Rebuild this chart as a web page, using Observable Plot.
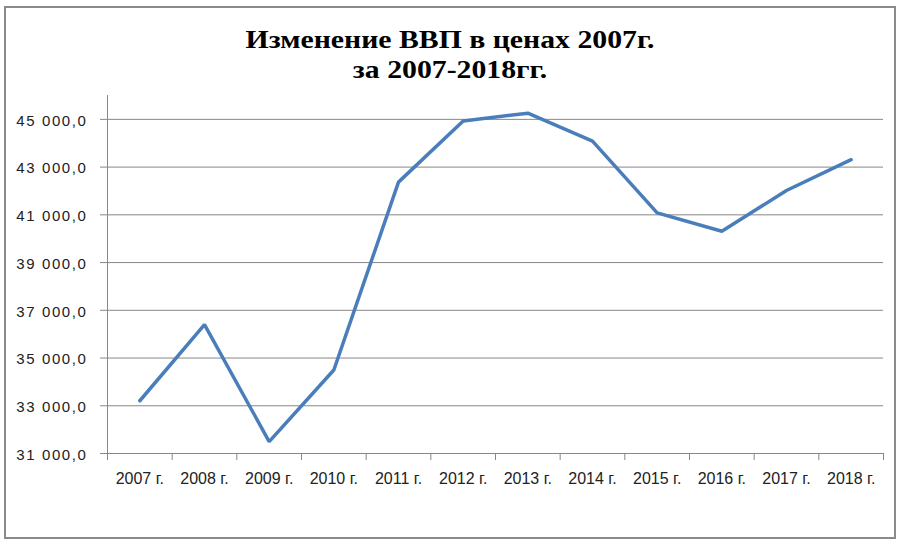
<!DOCTYPE html>
<html>
<head>
<meta charset="utf-8">
<script src="https://cdn.jsdelivr.net/npm/d3@7"></script>
<script src="https://cdn.jsdelivr.net/npm/@observablehq/plot@0.6"></script>
<style>
  html, body { margin: 0; padding: 0; background: #fff; }
  #wrap { position: relative; width: 901px; height: 542px; overflow: hidden; }
  #frame { position: absolute; left: 4px; top: 6px; width: 888px; height: 529px; border: 2px solid #8a8a8a; pointer-events: none; }
  #title { height: 90px; box-sizing: border-box; padding-top: 25px; text-align: center;
           font-family: "Liberation Serif", "Times New Roman", serif; font-weight: bold;
           font-size: 25px; line-height: 30px; color: #000; }
  #title div { display: block; transform: scaleX(1.19); transform-origin: 453px 50%; }
  svg g[aria-label="y-axis tick label"] text { letter-spacing: 1.6px; }
</style>
</head>
<body>
<div id="wrap">
  <div id="title"><div>Изменение ВВП в ценах 2007г.</div><div>за 2007-2018гг.</div></div>
  <div id="chart"></div>
  <div id="frame"></div>
</div>
<script>
const years = ["2007 г.", "2008 г.", "2009 г.", "2010 г.", "2011 г.", "2012 г.", "2013 г.", "2014 г.", "2015 г.", "2016 г.", "2017 г.", "2018 г."];
const gdp = [33210, 36400, 31500, 34500, 42370, 44930, 45260, 44090, 41080, 40310, 42020, 43310];
const yTicks = [31000, 33000, 35000, 37000, 39000, 41000, 43000, 45000];

const ru = d3.formatLocale({decimal: ",", thousands: " ", grouping: [3], currency: ["", ""]});
const fmt = ru.format(",.1f");

const data = years.map((label, i) => ({pos: i + 0.5, label, value: gdp[i]}));
const bounds = d3.range(years.length + 1);
const centers = years.map((_, i) => i + 0.5);

const chart = Plot.plot({
  width: 901,
  height: 452,
  marginTop: 5,
  marginBottom: 89,
  marginLeft: 107,
  marginRight: 18,
  style: {fontFamily: "'Liberation Sans', Arial, sans-serif", fontSize: "15px", color: "#222", background: "#fff"},
  x: {domain: [0, years.length], label: null},
  y: {domain: [31000, 46000], label: null},
  marks: [
    Plot.gridY(yTicks, {stroke: "#878787", strokeOpacity: 1, strokeWidth: 1}),
    Plot.axisY(yTicks, {tickSize: 7, tickFormat: () => "", stroke: "#878787", label: null}),
    Plot.axisY(yTicks, {tickSize: 7, tickPadding: 13, tickFormat: fmt, stroke: "none", fill: "#222", fontSize: 15, dy: 1.5, label: null}),
    Plot.ruleX([0], {y1: 31000, y2: 46000, stroke: "#878787"}),
    Plot.ruleY([31000], {stroke: "#878787"}),
    Plot.axisX(bounds, {tickSize: 7, tickFormat: () => "", stroke: "#878787", label: null}),
    Plot.axisX(centers, {tickSize: 0, tickPadding: 19, tickFormat: d => years[Math.round(d - 0.5)], fill: "#222", fontSize: 16, label: null}),
    Plot.line(data, {x: "pos", y: "value", stroke: "#4a7ebb", strokeWidth: 3.5, strokeLinejoin: "miter"})
  ]
});
document.getElementById("chart").appendChild(chart);
</script>
</body>
</html>
